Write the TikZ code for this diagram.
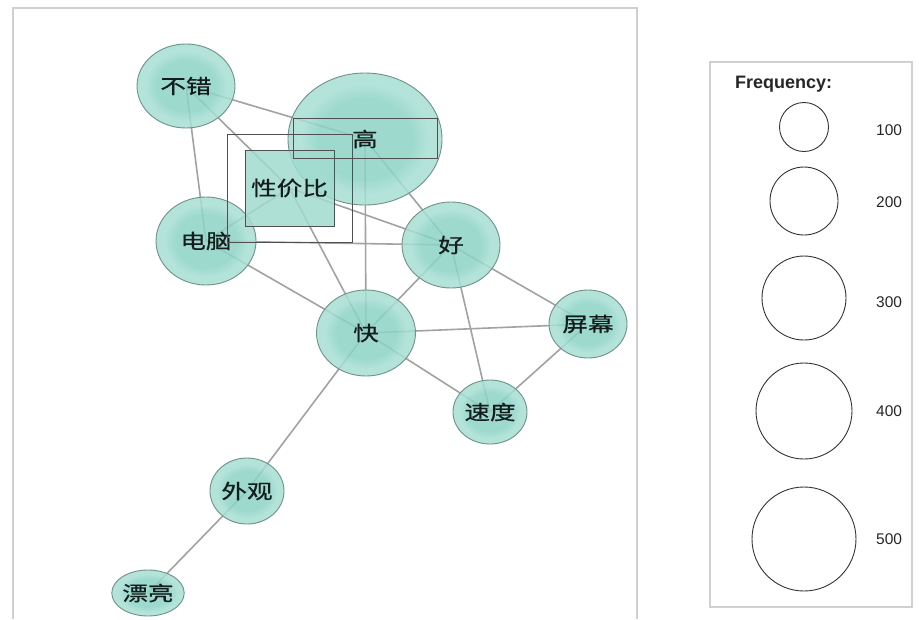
\documentclass[tikz,border=0pt]{standalone}
\usepackage{fontspec}
\setmainfont{Liberation Sans}
\newfontfamily\cjk[FakeStretch=1.28,FakeBold=0.6]{Noto Sans CJK SC}
\usetikzlibrary{shapes.geometric}
\pgfdeclarelayer{bglayer}
\pgfdeclarelayer{edgelayer}
\pgfsetlayers{bglayer,edgelayer,main}
\definecolor{outercol}{HTML}{A8DFD4}
\definecolor{innercol}{HTML}{8CD3C5}
\definecolor{rimcol}{HTML}{6E918A}
\definecolor{edgecol}{HTML}{A2A2A2}
\definecolor{framecol}{HTML}{D0D0D0}
\definecolor{boxcol}{HTML}{505050}
\definecolor{textcol}{HTML}{151D1C}
\pgfdeclareradialshading{bubshade}{\pgfpoint{0bp}{0bp}}{color(0bp)=(innercol); color(15bp)=(innercol); color(21bp)=(outercol); color(25bp)=(outercol); color(50bp)=(outercol)}
\tikzset{
  bub/.style={ellipse, draw=rimcol, line width=0.9pt, shading=bubshade, fill opacity=0.85, text opacity=1, inner sep=0pt, font=\cjk\fontsize{20}{20}\selectfont, text=textcol},
  sqbox/.style={rectangle, draw=boxcol, line width=1pt, fill=outercol!70!innercol, fill opacity=0.85, text opacity=1, inner sep=0pt, font=\cjk\fontsize{20}{20}\selectfont, text=textcol},
  edge/.style={draw=edgecol, line width=1.6pt},
  frame/.style={draw=framecol, line width=1.2pt},
  outline/.style={draw=boxcol, line width=1pt},
  legcirc/.style={circle, draw=black!80, line width=0.9pt, inner sep=0pt},
  leglab/.style={font=\fontsize{15.5}{16}\selectfont, text=black!85, anchor=west, inner sep=0pt},
}
\begin{document}
\begin{tikzpicture}[x=1pt, y=-1pt]
\useasboundingbox (0,0) rectangle (919,619);
\begin{pgfonlayer}{bglayer}
\fill[white] (0,0) rectangle (919,619);
\end{pgfonlayer}
% panels
\draw[frame] (13,619) -- (13,8) -- (637,8) -- (637,619);
\draw[frame] (710,62) rectangle (912,607);
% nodes
\node[bub, minimum width=98, minimum height=84] (buc) at (186,86) {不错};
\node[bub, minimum width=154, minimum height=132] (gao) at (365,139) {高};
\node[bub, minimum width=100, minimum height=88] (dn) at (206,241) {电脑};
\node[bub, minimum width=98, minimum height=86] (hao) at (451,245) {好};
\node[bub, minimum width=78, minimum height=68] (pm) at (588,324) {屏幕};
\node[bub, minimum width=74, minimum height=64] (sd) at (490,412) {速度};
\node[bub, minimum width=99, minimum height=86] (kuai) at (366,333) {快};
\node[bub, minimum width=74, minimum height=66] (wg) at (247,491) {外观};
\node[bub, minimum width=52, minimum height=46] (pl) at (148,593) {漂亮};
\node[sqbox, minimum width=89, minimum height=76] (xjb) at (289.5,188) {性价比};
% outlines
\draw[outline] (227,134) rectangle (352,242);
\draw[outline] (293,118) rectangle (437,158);
% edges
\begin{pgfonlayer}{edgelayer}
\draw[edge] (buc.center) -- (gao.center);
\draw[edge] (buc.center) -- (dn.center);
\draw[edge] (buc.center) -- (xjb.center);
\draw[edge] (dn.center) -- (xjb.center);
\draw[edge] (dn.center) -- (hao.center);
\draw[edge] (dn.center) -- (kuai.center);
\draw[edge] (xjb.center) -- (kuai.center);
\draw[edge] (xjb.center) -- (hao.center);
\draw[edge] (gao.center) -- (kuai.center);
\draw[edge] (gao.center) -- (hao.center);
\draw[edge] (kuai.center) -- (hao.center);
\draw[edge] (kuai.center) -- (pm.center);
\draw[edge] (kuai.center) -- (sd.center);
\draw[edge] (hao.center) -- (pm.center);
\draw[edge] (hao.center) -- (sd.center);
\draw[edge] (pm.center) -- (sd.center);
\draw[edge] (kuai.center) -- (wg.center);
\draw[edge] (wg.center) -- (pl.center);
\end{pgfonlayer}
% legend
\node[font=\bfseries\fontsize{18}{18}\selectfont, text=black!85, anchor=west, inner sep=0pt] (ltitle) at (735,84) {Frequency:};
\node[legcirc, minimum size=49] (c1) at (804,127) {};
\node[legcirc, minimum size=68] (c2) at (804,201) {};
\node[legcirc, minimum size=84] (c3) at (804,298) {};
\node[legcirc, minimum size=96] (c4) at (804,411) {};
\node[legcirc, minimum size=104] (c5) at (804,539) {};
\node[leglab] (l1) at (876,130.5) {100};
\node[leglab] (l2) at (876,202) {200};
\node[leglab] (l3) at (876,302) {300};
\node[leglab] (l4) at (876,411) {400};
\node[leglab] (l5) at (876,539) {500};
\end{tikzpicture}
\end{document}
